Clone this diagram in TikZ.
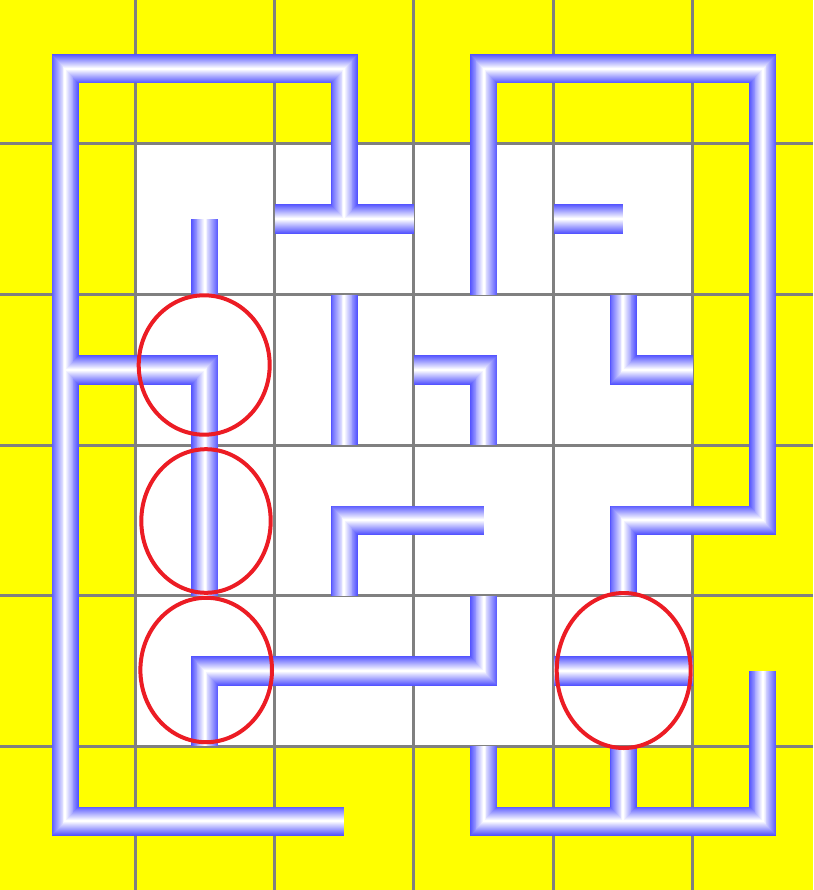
\documentclass[tikz,border=0pt]{standalone}
\usepackage{tikz}
\definecolor{pipeblue}{RGB}{84,84,255}
\definecolor{gridgray}{RGB}{128,128,128}
\definecolor{ringred}{RGB}{236,28,36}
\definecolor{bgyellow}{RGB}{255,255,0}
\tikzset{
  gridline/.style={draw=gridgray, line width=3pt},
  ring/.style={draw=ringred, line width=4pt},
}
\begin{document}
\begin{tikzpicture}[x=1pt, y=-1pt]
\useasboundingbox (0,0) rectangle (813,890);
\clip (0,0) rectangle (813,890);
% background
\fill[bgyellow] (0,0) rectangle (813,890);
\fill[white] (135,144) rectangle (693,746);
% grid
\foreach \gx in {135,274.5,413.8,553,692.8}{\draw[gridline] (\gx,0) -- (\gx,890);}
\foreach \gy in {144,294.7,445,595.7,746}{\draw[gridline] (0,\gy) -- (813,\gy);}
% pipes (square design scaled horizontally)
\begin{scope}[overlay, transform canvas={xscale=0.92691}, x=150.5pt, y=-150.5pt, shift={(70.4pt,-68.75pt)}, line join=miter, line cap=butt]
\foreach \i in {0,...,14}{
  \pgfmathsetmacro\w{29.5*(15-\i)/15}
  \pgfmathsetmacro\p{100*\i/14}
  \draw[line width=\w pt, color=white!\p!pipeblue]
    (1.5,1) -- (2,1) -- (2,0) -- (0,0) -- (0,5) -- (2,5)
    (2.5,1) -- (2,1) -- (2,0.5)
    (0,1.5) -- (0,2) -- (1,2) -- (1,3.5)
    (0,2.5) -- (0,2) -- (0.5,2)
    (1,4.5) -- (1,4) -- (3,4) -- (3,3.5)
    (3.5,4) -- (4.5,4)
    (5,4) -- (5,5) -- (3,5) -- (3,4.5)
    (4,4.5) -- (4,5) -- (3.5,5)
    (4,4.5) -- (4,5) -- (4.5,5)
    (3,1.5) -- (3,0) -- (5,0) -- (5,3) -- (4,3) -- (4,3.5)
    (3.5,1) -- (4,1)
    (1,1) -- (1,1.5)
    (2,1.5) -- (2,2.5)
    (2.5,2) -- (3,2) -- (3,2.5)
    (4,1.5) -- (4,2) -- (4.5,2)
    (3,3) -- (2,3) -- (2,3.5);
}
\end{scope}
% rings
\draw[ring] (204.2,365) ellipse [x radius=65.5, y radius=69.7];
\draw[ring] (206,521) ellipse [x radius=64.7, y radius=71.8];
\draw[ring] (206.2,670) ellipse [x radius=65.8, y radius=72.2];
\draw[ring] (623.7,670.5) ellipse [x radius=67, y radius=77.5];
\end{tikzpicture}
\end{document}
